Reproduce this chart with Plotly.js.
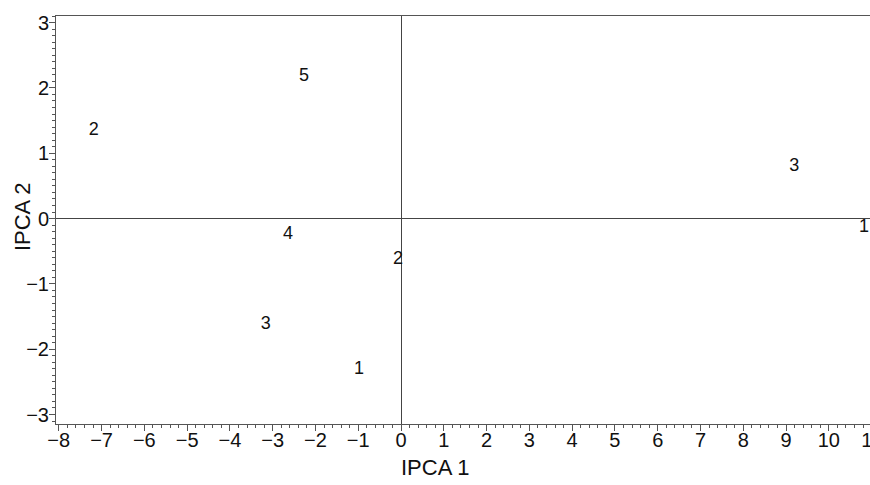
<!DOCTYPE html>
<html>
<head>
<meta charset="utf-8">
<script src="https://cdn.plot.ly/plotly-3.0.1.min.js"></script>
<style>
html,body{margin:0;padding:0;overflow:hidden;width:870px;height:485px;background:#fff;}
#chart{width:900px;height:485px;}
</style>
</head>
<body>
<div id="chart"></div>
<script>
// Point labels and their coordinates (IPCA 1, IPCA 2)
const groupA_labels = ["1", "2", "3"];
const groupA_ipca1 = [10.82, -7.18, 9.19];
const groupA_ipca2 = [-0.14, 1.35, 0.80];

const groupB_labels = ["1", "2", "3", "4", "5"];
const groupB_ipca1 = [-0.98, -0.07, -3.16, -2.64, -2.27];
const groupB_ipca2 = [-2.31, -0.63, -1.62, -0.245, 2.17];

const xTicks = [-8,-7,-6,-5,-4,-3,-2,-1,0,1,2,3,4,5,6,7,8,9,10,11];
const yTicks = [-3,-2,-1,0,1,2,3];
const xTitle = "IPCA 1";
const yTitle = "IPCA 2";

const textFont = {family: "Liberation Sans, Arial, sans-serif", size: 18, color: "#111"};

const traces = [
  {x: groupA_ipca1, y: groupA_ipca2, text: groupA_labels, mode: "text", type: "scatter",
   textfont: textFont, textposition: "middle center", hoverinfo: "skip", cliponaxis: false},
  {x: groupB_ipca1, y: groupB_ipca2, text: groupB_labels, mode: "text", type: "scatter",
   textfont: textFont, textposition: "middle center", hoverinfo: "skip", cliponaxis: false}
];

const fmt = v => v < 0 ? "\u2212" + Math.abs(v) : String(v);
const axisCol = "#555";
const layout = {
  width: 900, height: 485,
  margin: {l: 56, r: 10, t: 16, b: 61},
  paper_bgcolor: "#fff", plot_bgcolor: "#fff",
  showlegend: false,
  font: {family: "Liberation Sans, Arial, sans-serif", color: "#111"},
  xaxis: {
    range: [-8.065, 11.43],
    tickmode: "array", tickvals: xTicks, ticktext: xTicks.map(fmt),
    ticks: "outside", ticklen: 6, tickwidth: 1, tickcolor: axisCol,
    ticklabelstandoff: -8,
    minor: {dtick: 0.2, tick0: 0, ticks: "outside", ticklen: 3, tickwidth: 1, tickcolor: axisCol, showgrid: false},
    showline: true, linecolor: axisCol, linewidth: 1, mirror: true,
    showgrid: false, zeroline: true, zerolinecolor: "#444", zerolinewidth: 1,
    tickfont: {size: 20, color: "#111"},
    automargin: false, fixedrange: true
  },
  yaxis: {
    range: [-3.145, 3.10],
    tickmode: "array", tickvals: yTicks, ticktext: yTicks.map(fmt),
    ticks: "outside", ticklen: 6, tickwidth: 1, tickcolor: axisCol,
    ticklabelstandoff: -4,
    minor: {dtick: 0.1, tick0: 0, ticks: "outside", ticklen: 3, tickwidth: 1, tickcolor: axisCol, showgrid: false},
    showline: true, linecolor: axisCol, linewidth: 1, mirror: true,
    showgrid: false, zeroline: true, zerolinecolor: "#444", zerolinewidth: 1,
    tickfont: {size: 20, color: "#111"},
    automargin: false, fixedrange: true
  },
  annotations: [
    {text: xTitle, xref: "paper", yref: "paper", x: 0.4544, y: -0.1054,
     xanchor: "center", yanchor: "middle", showarrow: false, font: {size: 22, color: "#111"}},
    {text: yTitle, xref: "paper", yref: "paper", x: -0.0408, y: 0.507, textangle: -90,
     xanchor: "center", yanchor: "middle", showarrow: false, font: {size: 22, color: "#111"}}
  ]
};

Plotly.newPlot("chart", traces, layout, {displayModeBar: false, staticPlot: true});
</script>
</body>
</html>
